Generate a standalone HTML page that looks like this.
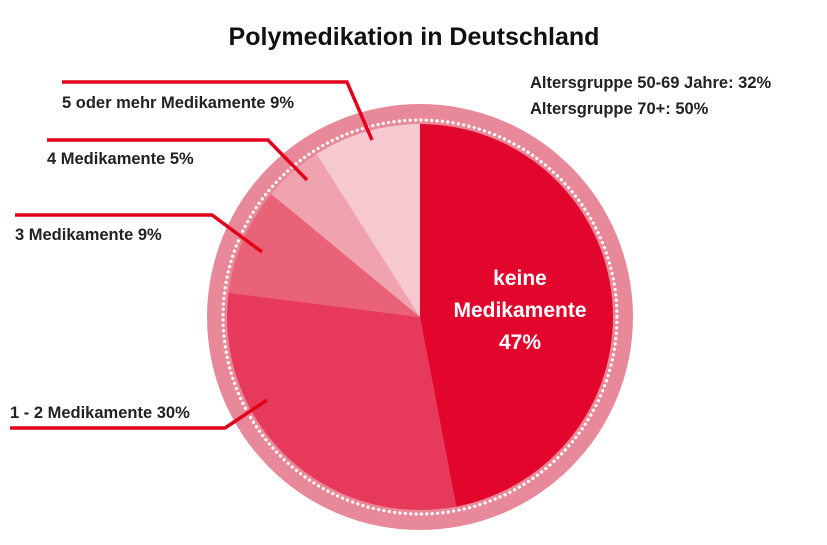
<!DOCTYPE html>
<html><head><meta charset="utf-8"><style>
body{margin:0;background:#fff;width:827px;height:540px;overflow:hidden;font-family:"Liberation Sans",sans-serif}
svg text{font-family:"Liberation Sans",sans-serif}
</style></head><body>
<svg id="chart" width="827" height="540" viewBox="0 0 827 540">
<text x="414" y="45" text-anchor="middle" font-size="25" font-weight="bold" fill="#111">Polymedikation in Deutschland</text>
<text x="530" y="88" font-size="16.5" font-weight="bold" fill="#222">Altersgruppe 50-69 Jahre: 32%</text>
<text x="530" y="114" font-size="16.5" font-weight="bold" fill="#222">Altersgruppe 70+: 50%</text>
<circle cx="420" cy="317" r="213" fill="#e8899a"/>
<g id="slices"></g>
<circle cx="420" cy="317" r="197" fill="none" stroke="#fff" stroke-width="3.2" stroke-dasharray="0.1 5.3" stroke-linecap="round"/>
<g id="labels"></g>
</svg>
<script>
const categories=["keine Medikamente","1 - 2 Medikamente","3 Medikamente","4 Medikamente","5 oder mehr Medikamente"];
const values=[47,30,9,5,9];
const colors=["#e2062d","#e73a5a","#ea6277","#f0a3ae","#f6c9d0"];
const cx=420,cy=317,R=193;
const ns="http://www.w3.org/2000/svg";
const g=document.getElementById('slices');
const total=values.reduce((a,b)=>a+b,0);
function pt(a,r){return [cx+r*Math.sin(a),cy-r*Math.cos(a)];}
let a0=0;
values.forEach((v,i)=>{
  const a1=a0+v/total*2*Math.PI;
  const p0=pt(a0,R),p1=pt(a1,R);
  const p=document.createElementNS(ns,'path');
  p.setAttribute('d',`M${cx},${cy}L${p0[0]},${p0[1]}A${R},${R} 0 ${a1-a0>Math.PI?1:0} 1 ${p1[0]},${p1[1]}Z`);
  p.setAttribute('fill',colors[i]);
  
  
  g.appendChild(p);
  a0=a1;
});
const lg=document.getElementById('labels');
const leaders=[
 {i:4,pts:"62,82 347,82 372,140",tx:62,ty:108},
 {i:3,pts:"47,140 268,140 307,180",tx:47,ty:164},
 {i:2,pts:"15,215 212,215 262,252",tx:15,ty:240},
 {i:1,pts:"10,428 225,428 267,400",tx:10,ty:418}
];
leaders.forEach(l=>{
  const pl=document.createElementNS(ns,'polyline');
  pl.setAttribute('points',l.pts);
  pl.setAttribute('fill','none');pl.setAttribute('stroke','#e2001a');pl.setAttribute('stroke-width','3.5');
  
  
  lg.appendChild(pl);
  const t=document.createElementNS(ns,'text');
  t.setAttribute('x',l.tx);t.setAttribute('y',l.ty);
  t.setAttribute('font-size','16.5');t.setAttribute('font-weight','bold');t.setAttribute('fill','#222');
  t.textContent=categories[l.i]+' '+values[l.i]+'%';
  
  
  lg.appendChild(t);
});
[["keine",285],["Medikamente",317],[values[0]+"%",349]].forEach((s,k)=>{
  const t=document.createElementNS(ns,'text');
  t.setAttribute('x',520);t.setAttribute('y',s[1]);t.setAttribute('text-anchor','middle');
  t.setAttribute('font-size','21');t.setAttribute('font-weight','bold');t.setAttribute('fill','#fff');
  t.textContent=s[0];
  
  
  lg.appendChild(t);
});
</script>
</body></html>
